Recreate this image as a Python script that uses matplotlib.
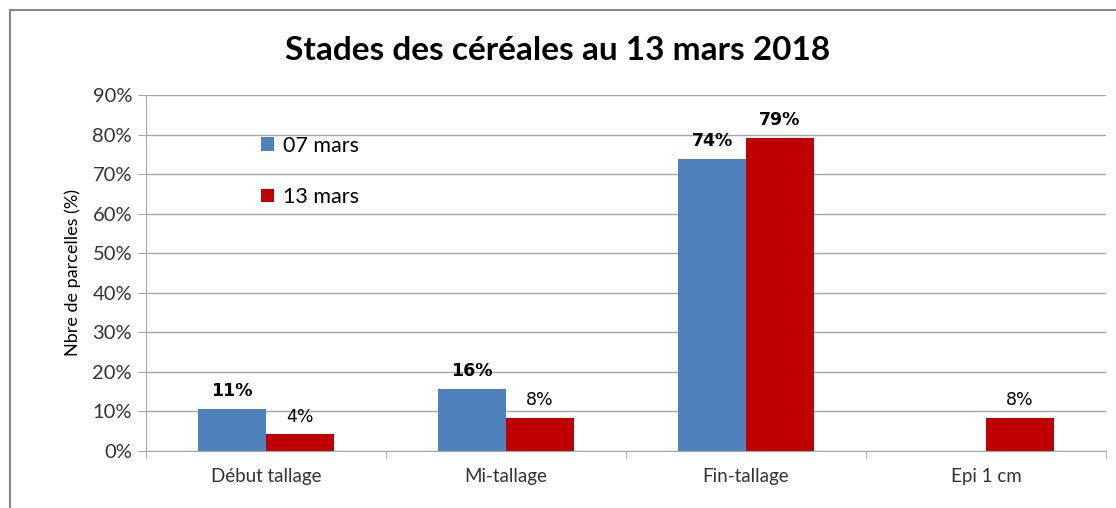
import matplotlib.pyplot as plt
from matplotlib.patches import Rectangle
import numpy as np

stades = ["Début tallage", "Mi-tallage", "Fin-tallage", "Epi 1 cm"]
mars07 = [10.6, 15.8, 73.9, 0]
mars13 = [4.2, 8.3, 79.2, 8.3]
bold07 = [True, True, True, False]
bold13 = [False, False, True, False]
yticks = [0, 10, 20, 30, 40, 50, 60, 70, 80, 90]

blue = "#4f81bd"
red = "#c00000"
grid = "#a6a6a6"

plt.rcParams['font.family'] = ['Lato', 'DejaVu Sans']

fig = plt.figure(figsize=(11.16, 5.08), dpi=100)
ax = fig.add_axes([0.1308, 0.1122, 0.8602, 0.7008])

x = np.arange(len(stades))
w = 0.283
ax.bar(x - w / 2, mars07, w, color=blue, label="07 mars")
ax.bar(x + w / 2, mars13, w, color=red, label="13 mars")

for xi, v, b in zip(x, mars07, bold07):
    if v > 0:
        ax.text(xi - w / 2, v + 2.2, f"{v:.0f}%", ha="center", va="bottom",
                fontsize=12.5, family="DejaVu Sans",
                fontweight="bold" if b else "normal")
for xi, v, b in zip(x, mars13, bold13):
    if v > 0:
        ax.text(xi + w / 2, v + 2.2, f"{v:.0f}%", ha="center", va="bottom",
                fontsize=12.5, family="DejaVu Sans",
                fontweight="bold" if b else "normal")

ax.set_xlim(-0.5, 3.5)
ax.set_ylim(0, 90)
ax.set_yticks(yticks)
ax.set_yticklabels([f"{t}%" for t in yticks], fontsize=14.5, color="#333333")
ax.set_xticks(x)
ax.set_xticklabels(stades, fontsize=13.5, color="#333333")
ax.tick_params(axis="x", length=0, pad=12)
ax.set_xticks(np.arange(-0.5, 4, 1), minor=True)
ax.tick_params(axis="x", which="minor", length=6, color=grid, direction="out")
ax.tick_params(axis="y", length=6, color=grid, direction="out", pad=4)
ax.yaxis.grid(True, color=grid, linewidth=1)
ax.set_axisbelow(True)
for s in ["top", "right"]:
    ax.spines[s].set_visible(False)
for s in ["left", "bottom"]:
    ax.spines[s].set_color(grid)

ax.set_ylabel("Nbre de parcelles (%)", fontsize=13, labelpad=8)
fig.suptitle("Stades des céréales au 13 mars 2018", fontsize=24,
             fontweight="bold", y=1 - 50 / 508, va="center")

ax.legend(loc="upper left", bbox_to_anchor=(0.1, 0.94), frameon=False,
          fontsize=15.5, labelspacing=1.45, handlelength=0.6, handleheight=0.6,
          handletextpad=0.4)

fig.patches.append(Rectangle((10 / 1116, -0.05), 1.1, 1 - 10 / 508 + 0.05,
                             transform=fig.transFigure, fill=False,
                             edgecolor="#888888", linewidth=1.5))

fig.savefig("out.png", dpi=100)
